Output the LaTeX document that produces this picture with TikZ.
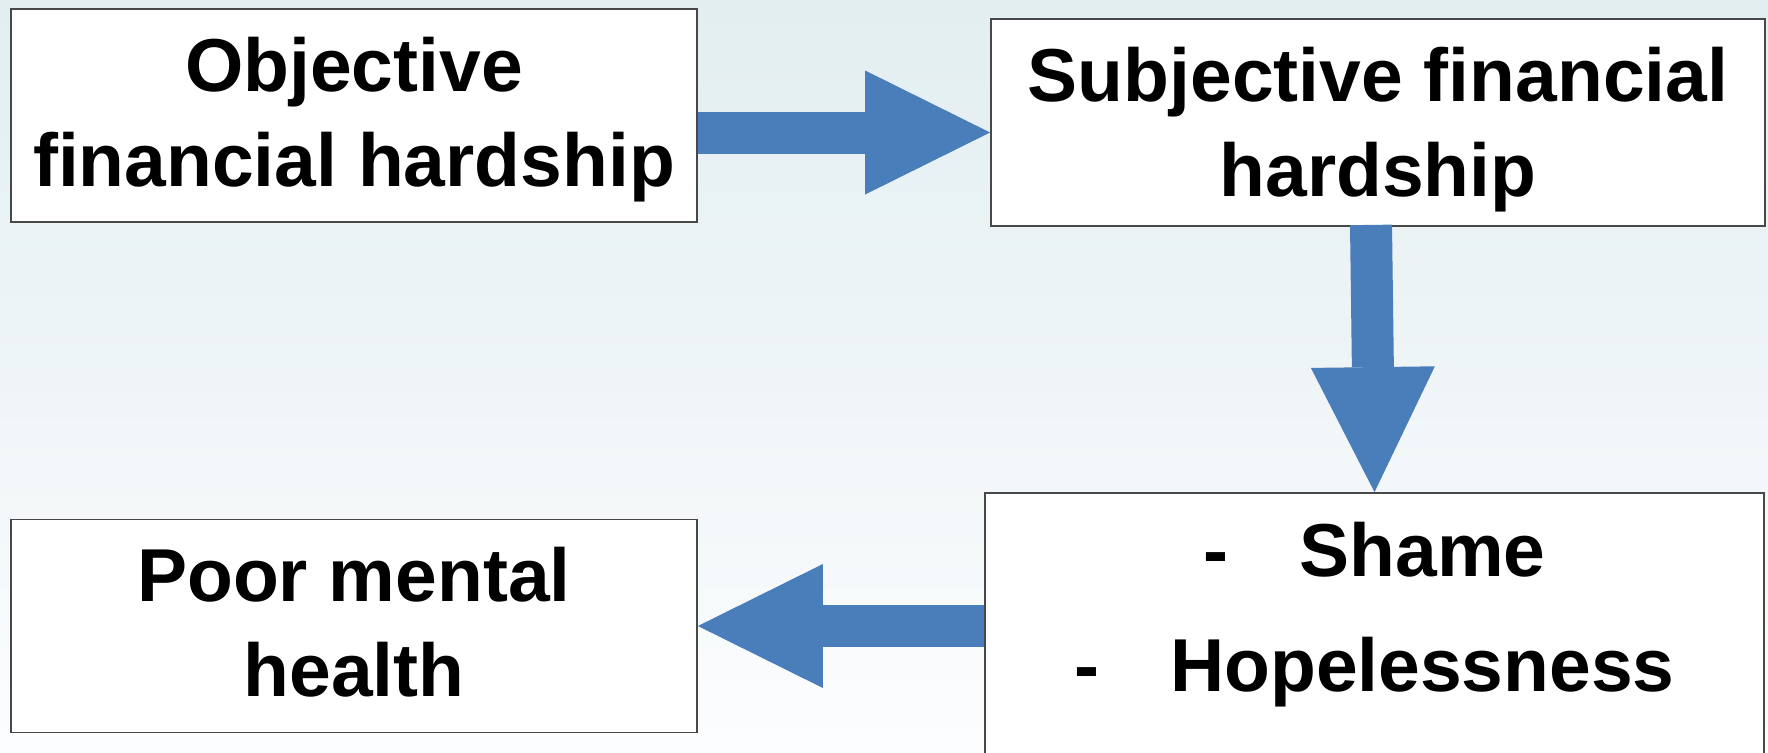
\documentclass[tikz,border=0pt]{standalone}
\usepackage{fontspec}
\setmainfont{Liberation Sans}
\usetikzlibrary{arrows.meta,calc}

\definecolor{arrowblue}{RGB}{74,126,187}
\definecolor{boxline}{RGB}{72,72,72}
\definecolor{bgtop}{RGB}{226,238,240}
\definecolor{bgmid}{RGB}{239,245,247}
\definecolor{bgbot}{RGB}{252,253,254}

% soft slide background, light teal at the top fading to white
\pgfdeclareverticalshading{slidebg}{100bp}{color(0bp)=(bgbot); color(25bp)=(bgbot); color(50bp)=(bgmid); color(75bp)=(bgtop); color(100bp)=(bgtop)}

% struts that fix the height of the first line and the depth of the last
\newcommand{\toprule}[1]{\rule{0pt}{#1}}
\newcommand{\bottomstrut}{\rule[-16pt]{0pt}{16pt}}

\tikzset{
  box/.style={draw=boxline, line width=1.8pt, fill=white, inner sep=0pt,
    align=center, font=\fontsize{75}{95}\selectfont\bfseries},
  itemtext/.style={inner sep=0pt, font=\fontsize{75}{95}\selectfont\bfseries},
  fatarrow/.style={draw=arrowblue, line width=42pt, line cap=butt,
    -{Triangle[length=125pt,width=124pt,line width=0pt]}}
}

\begin{document}
\begin{tikzpicture}[x=1pt,y=-1pt]
  \useasboundingbox (0,0) rectangle (1768,752);
  \shade[shading=slidebg] (0,0) rectangle (1768,752);
  \clip (0,0) rectangle (1768,752);

  % boxes
  \node[box, minimum width=686pt, minimum height=213pt] (obj) at (354,115.5)
    {\toprule{63.4pt}Objective\\financial hardship\bottomstrut};
  \node[box, minimum width=774pt, minimum height=207pt] (subj) at (1378,122.5)
    {\toprule{69.4pt}Subjective financial\\hardship\bottomstrut};
  \node[box, minimum width=779pt, minimum height=320pt] (emo) at (1374.5,653) {};
  \node[itemtext, anchor=base] (shame) at ($(emo.north)+(0,84)$)
    {-\hspace{71pt}Shame};
  \node[itemtext, anchor=base] (hope) at ($(emo.north)+(0,199)$)
    {-\hspace{71pt}Hopelessness};
  \node[box, minimum width=686pt, minimum height=213pt] (mh) at (354,626)
    {\toprule{62.4pt}Poor mental\\health\bottomstrut};

  % block arrows
  \draw[fatarrow] ($(obj.east)+(0,17)$) -- ($(subj.west)+(0,10)$);
  \draw[fatarrow] ($(subj.south)+(-7,-2)$) -- (emo.north);
  \draw[fatarrow] (emo.west |- mh.east) -- (mh.east);
\end{tikzpicture}
\end{document}
